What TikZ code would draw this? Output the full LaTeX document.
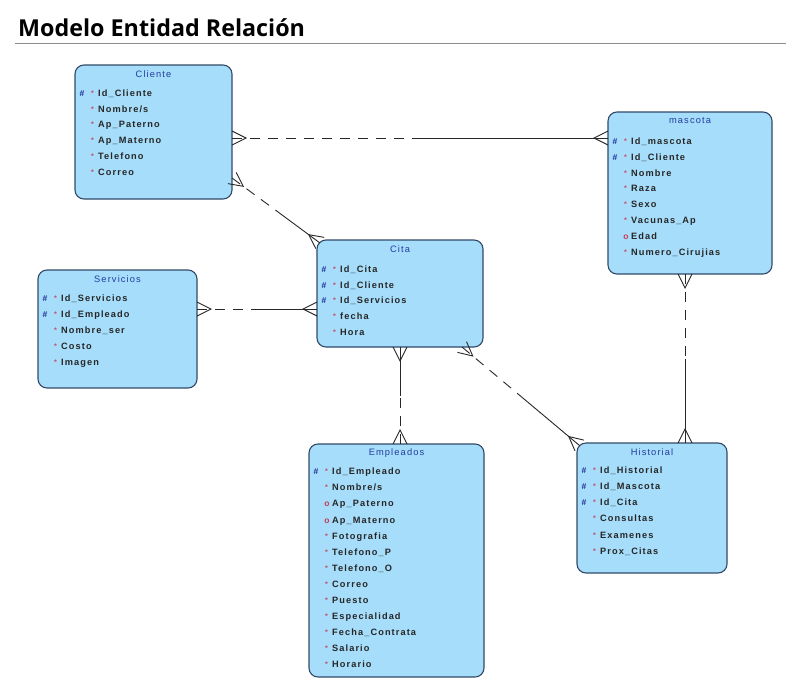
\documentclass[tikz,border=0pt]{standalone}
\usepackage{fontspec}
\setmainfont{Liberation Sans}
\newfontfamily\titlefont{Open Sans}
\newfontfamily\attrfont{Liberation Sans}[LetterSpace=12]
\usetikzlibrary{calc}
\definecolor{entfill}{RGB}{166,221,251}
\definecolor{entdraw}{RGB}{50,74,104}
\definecolor{enttitle}{RGB}{35,60,160}
\definecolor{keyblue}{RGB}{25,45,150}
\definecolor{mkred}{RGB}{200,60,90}
\definecolor{lineclr}{RGB}{40,40,40}
\definecolor{rulegray}{RGB}{140,140,140}
\tikzset{
  entbox/.style={draw=entdraw, fill=entfill, line width=1.1pt, rounded corners=9pt, inner sep=0pt, outer sep=0pt},
  etitle/.style={text=enttitle, font=\attrfont\fontsize{9.3}{10}\selectfont, inner sep=0pt},
  attr/.style={anchor=base west, inner sep=0pt, text=black!85, font=\attrfont\bfseries\fontsize{9.2}{10}\selectfont},
  mkhash/.style={anchor=base, inner sep=0pt, text=keyblue, font=\bfseries\fontsize{8.5}{10}\selectfont},
  mkstar/.style={anchor=base, inner sep=0pt, text=mkred, font=\fontsize{8.5}{10}\selectfont},
  mko/.style={anchor=base, inner sep=0pt, text=mkred, font=\bfseries\fontsize{8.5}{10}\selectfont},
  conn/.style={draw=lineclr, line width=0.9pt},
  reldash/.style={dash pattern=on 10pt off 8pt},
  pagetitle/.style={anchor=base west, inner sep=0pt, font=\titlefont\bfseries\fontsize{23.3}{26}\selectfont}
}
\def\rowA{28}
\def\rowS{16}
\newcommand\entity[6]{%
  \node[entbox, anchor=north west, minimum width={(#4-#2)*1pt}, minimum height={(#5-#3)*1pt}] (#1) at (#2,#3) {};
  \node[etitle] (#1-t) at ($(#1.north)+(0,9)$) {#6};}
\newcommand\attr[4]{%
  \node[attr] (#1-a#2) at ($(#1.north west)+(23,{\rowA+3.3+(#2-1)*\rowS})$) {#4};
  \if k#3
    \node[mkhash] (#1-h#2) at ($(#1.north west)+(7,{\rowA+3.3+(#2-1)*\rowS})$) {\#};
  \fi
  \if o#3
    \node[mko] (#1-o#2) at ($(#1.north west)+(18,{\rowA+3.3+(#2-1)*\rowS})$) {o};
  \else
    \node[mkstar] (#1-s#2) at ($(#1.north west)+(17.5,{\rowA+3.3+(#2-1)*\rowS})$) {*};
  \fi}
\newcommand\crow[2]{%
  \draw[conn] ($(#1)!7pt!90:(#2)$) -- ($(#1)!14pt!(#2)$) -- ($(#1)!7pt!-90:(#2)$);}
\newcommand\rel[3]{%
  \coordinate (#3) at ($(#1)!0.5!(#2)$);
  \draw[conn, reldash] (#1) -- (#3);
  \draw[conn] (#3) -- (#2);
  \crow{#1}{#2}\crow{#2}{#1}}
\begin{document}
\begin{tikzpicture}[x=1pt,y=-1pt]
\useasboundingbox[fill=white] (0,0) rectangle (786,688);
\node[pagetitle] (title) at (18,36) {Modelo Entidad Relación};
\coordinate (ruleL) at (15,43.5);
\coordinate (ruleR) at (786,43.5);
\draw[rulegray, line width=1pt] (ruleL) -- (ruleR);

% Cliente
\def\rowA{28}\def\rowS{15.75}
\entity{cliente}{75}{65}{232}{199}{Cliente}
\attr{cliente}{1}{k}{Id\_Cliente}
\attr{cliente}{2}{s}{Nombre/s}
\attr{cliente}{3}{s}{Ap\_Paterno}
\attr{cliente}{4}{s}{Ap\_Materno}
\attr{cliente}{5}{s}{Telefono}
\attr{cliente}{6}{s}{Correo}

% mascota
\def\rowA{29}\def\rowS{15.85}
\entity{mascota}{608}{112}{772}{274}{mascota}
\attr{mascota}{1}{k}{Id\_mascota}
\attr{mascota}{2}{k}{Id\_Cliente}
\attr{mascota}{3}{s}{Nombre}
\attr{mascota}{4}{s}{Raza}
\attr{mascota}{5}{s}{Sexo}
\attr{mascota}{6}{s}{Vacunas\_Ap}
\attr{mascota}{7}{o}{Edad}
\attr{mascota}{8}{s}{Numero\_Cirujias}

% Cita
\def\rowA{29}\def\rowS{15.75}
\entity{cita}{317}{240}{483}{347}{Cita}
\attr{cita}{1}{k}{Id\_Cita}
\attr{cita}{2}{k}{Id\_Cliente}
\attr{cita}{3}{k}{Id\_Servicios}
\attr{cita}{4}{s}{fecha}
\attr{cita}{5}{s}{Hora}

% Servicios
\def\rowA{28}\def\rowS{16}
\entity{servicios}{38}{270}{197}{388}{Servicios}
\attr{servicios}{1}{k}{Id\_Servicios}
\attr{servicios}{2}{k}{Id\_Empleado}
\attr{servicios}{3}{s}{Nombre\_ser}
\attr{servicios}{4}{s}{Costo}
\attr{servicios}{5}{s}{Imagen}

% Empleados
\def\rowA{27.5}\def\rowS{16.08}
\entity{empleados}{309}{444}{484}{677}{Empleados}
\attr{empleados}{1}{k}{Id\_Empleado}
\attr{empleados}{2}{s}{Nombre/s}
\attr{empleados}{3}{o}{Ap\_Paterno}
\attr{empleados}{4}{o}{Ap\_Materno}
\attr{empleados}{5}{s}{Fotografia}
\attr{empleados}{6}{s}{Telefono\_P}
\attr{empleados}{7}{s}{Telefono\_O}
\attr{empleados}{8}{s}{Correo}
\attr{empleados}{9}{s}{Puesto}
\attr{empleados}{10}{s}{Especialidad}
\attr{empleados}{11}{s}{Fecha\_Contrata}
\attr{empleados}{12}{s}{Salario}
\attr{empleados}{13}{s}{Horario}

% Historial
\def\rowA{27}\def\rowS{16.2}
\entity{historial}{577}{443}{727}{573}{Historial}
\attr{historial}{1}{k}{Id\_Historial}
\attr{historial}{2}{k}{Id\_Mascota}
\attr{historial}{3}{k}{Id\_Cita}
\attr{historial}{4}{s}{Consultas}
\attr{historial}{5}{s}{Examenes}
\attr{historial}{6}{s}{Prox\_Citas}

% connector end points
\coordinate (cm1) at ($(cliente.north east)+(0,73)$);
\coordinate (cm2) at ($(mascota.north west)+(0,26)$);
\coordinate (cc1) at ($(cliente.north east)+(0,113)$);
\coordinate (cc2) at ($(cita.north west)+(3,3)$);
\coordinate (sc1) at ($(servicios.north east)+(0,39)$);
\coordinate (sc2) at ($(cita.north west)+(0,69)$);
\coordinate (ce1) at ($(empleados.north west)+(91,0)$);
\coordinate (ce2) at ($(cita.south west)+(83,0)$);
\coordinate (ch1) at ($(cita.south west)+(145,0)$);
\coordinate (ch2) at ($(historial.north west)+(2.5,2.5)$);
\coordinate (mh1) at ($(mascota.south west)+(77,0)$);
\coordinate (mh2) at ($(historial.north west)+(108,0)$);

\rel{cm1}{cm2}{mcm}
\rel{cc1}{cc2}{mcc}
\rel{sc1}{sc2}{msc}
\rel{ce1}{ce2}{mce}
\rel{ch1}{ch2}{mch}
\rel{mh1}{mh2}{mmh}
\end{tikzpicture}
\end{document}
